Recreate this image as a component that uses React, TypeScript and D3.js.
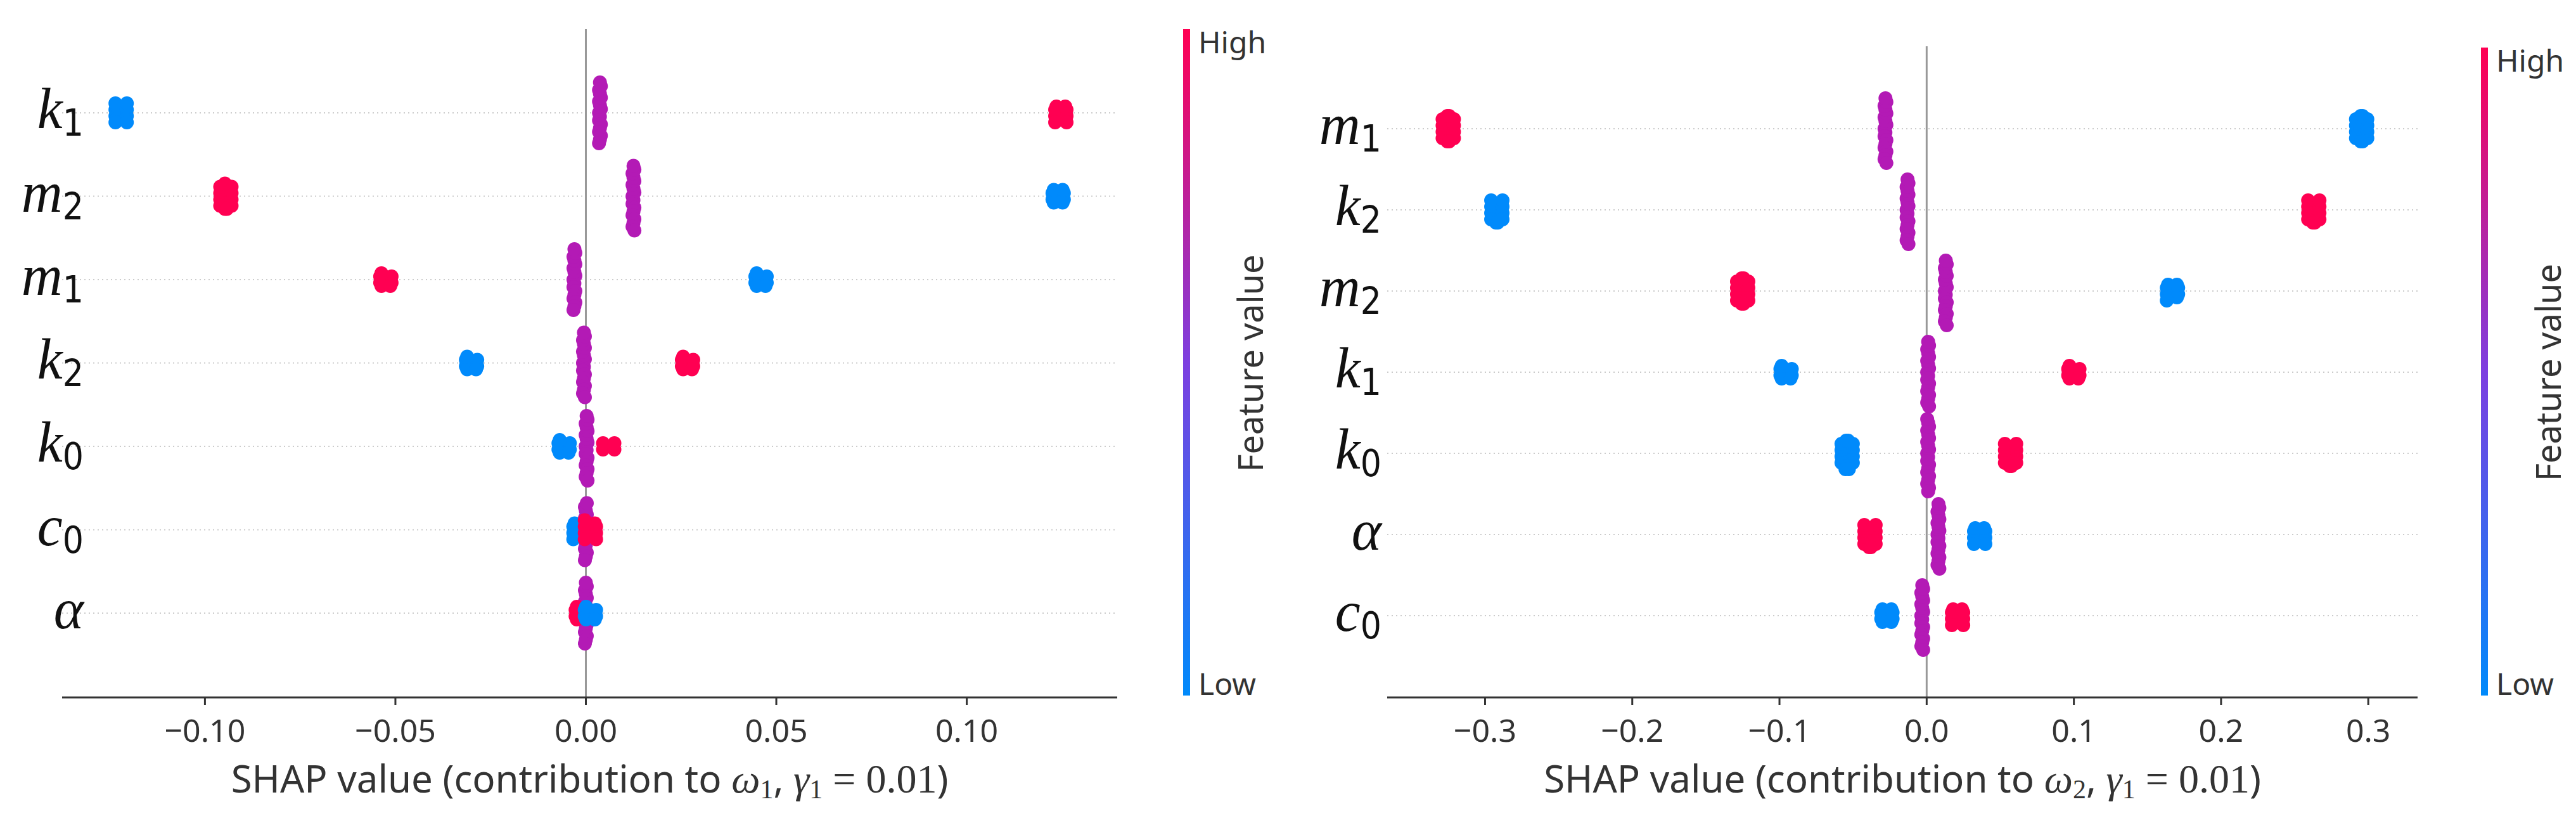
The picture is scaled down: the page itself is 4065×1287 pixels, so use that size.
import React from "react";
import * as d3 from "d3";

// ---- data ----
const leftFeatures = ["k1", "m2", "m1", "k2", "k0", "c0", "alpha"];
// clusters: [feature, shap value, feature value (0 low..1 high), point count]
const leftClusters: [string, number, number, number][] = [
  ["k1", -0.122, 0, 14], ["k1", 0.0037, 0.5, 17], ["k1", 0.1247, 1, 12],
  ["m2", -0.0945, 1, 17], ["m2", 0.0125, 0.5, 18], ["m2", 0.124, 0, 10],
  ["m1", -0.0525, 1, 9], ["m1", -0.003, 0.5, 17], ["m1", 0.046, 0, 9],
  ["k2", -0.030, 0, 9], ["k2", -0.0005, 0.5, 18], ["k2", 0.0267, 1, 9],
  ["k0", -0.0057, 0, 9], ["k0", 0.0002, 0.5, 18], ["k0", 0.006, 1, 6],
  ["c0", 0.0, 0.5, 16], ["c0", -0.0018, 0, 11], ["c0", 0.0012, 1, 13],
  ["alpha", 0.0, 0.5, 17], ["alpha", -0.0012, 1, 9], ["alpha", 0.0012, 0, 9],
];
const leftTicks = [-0.1, -0.05, 0, 0.05, 0.1];
const leftDomain = [-0.1375, 0.1395];

const rightFeatures = ["m1", "k2", "m2", "k1", "k0", "alpha", "c0"];
const rightClusters: [string, number, number, number][] = [
  ["m1", -0.325, 1, 18], ["m1", -0.028, 0.5, 18], ["m1", 0.2955, 0, 18],
  ["k2", -0.292, 0, 16], ["k2", -0.013, 0.5, 18], ["k2", 0.263, 1, 16],
  ["m2", -0.125, 1, 18], ["m2", 0.013, 0.5, 18], ["m2", 0.167, 0, 11],
  ["k1", -0.0955, 0, 9], ["k1", 0.001, 0.5, 18], ["k1", 0.100, 1, 9],
  ["k0", -0.054, 0, 20], ["k0", 0.001, 0.5, 20], ["k0", 0.057, 1, 16],
  ["alpha", -0.0385, 1, 16], ["alpha", 0.008, 0.5, 18], ["alpha", 0.036, 0, 12],
  ["c0", -0.027, 0, 10], ["c0", -0.003, 0.5, 18], ["c0", 0.021, 1, 12],
];
const rightTicks = [-0.3, -0.2, -0.1, 0, 0.1, 0.2, 0.3];
const rightDomain = [-0.3665, 0.3335];

const colorStops = ["#008afb", "#7d3fe0", "#ff0052"];
const color = d3.scaleLinear<string>().domain([0, 0.5, 1]).range(colorStops).interpolate(d3.interpolateRgb);
const midColor = "#b31ab5";
const ptColor = (v: number) => (v === 0.5 ? midColor : color(v));

const sub: Record<string, [string, string]> = {
  k1: ["k", "1"], k2: ["k", "2"], k0: ["k", "0"], m1: ["m", "1"], m2: ["m", "2"], c0: ["c", "0"], alpha: ["α", ""],
};

const fmtL = (v: number) => (v < 0 ? "\u2212" : "") + Math.abs(v).toFixed(2);
const fmtR = (v: number) => (v < 0 ? "\u2212" : "") + Math.abs(v).toFixed(1);

function Panel(props: {
  ox: number; x0: number; x1: number; top: number; domain: number[]; ticks: number[]; fmt: (v: number) => string;
  features: string[]; clusters: [string, number, number, number][]; rowTop: number; rowGap: number;
  labelRight: number; omega: string; cbX: number; cbTop: number;
}) {
  const { x0, x1, top, domain, ticks, fmt, features, clusters, rowTop, rowGap, labelRight, omega, cbX, cbTop } = props;
  const axisY = 1100;
  const x = d3.scaleLinear().domain(domain).range([x0, x1]);
  const y = d3.scalePoint<string>().domain(features).range([rowTop, rowTop + rowGap * (features.length - 1)]);
  const r = 11;
  const pts: { cx: number; cy: number; c: string; k: string }[] = [];
  const blobPattern = [0, -1, 1, -0.5, 0.5, -1, 1, 0];
  clusters.forEach(([f, s, v, n], ci) => {
    const cx0 = x(s);
    const cy0 = y(f)!;
    const mid = v === 0.5;
    for (let i = 0; i < n; i++) {
      if (mid) {
        const k = Math.ceil(i / 2) * (i % 2 ? 1 : -1);
        pts.push({ cx: cx0 + ((i % 3) - 1) * 1.5, cy: cy0 + k * 6, c: ptColor(v), k: `${ci}-${i}` });
      } else {
        const j = Math.floor(i / 2);
        const k = Math.ceil(j / 2) * (j % 2 ? 1 : -1);
        const side = i % 2 ? 1 : -1;
        const dx = side * (5 + Math.abs(blobPattern[j % 8]) * 4) * (Math.abs(k) > 3 ? 0.3 : 1);
        pts.push({ cx: cx0 + dx, cy: cy0 + k * 5, c: ptColor(v), k: `${ci}-${i}` });
      }
    }
  });
  const gradId = `grad${props.ox}`;
  return (
    <g>
      {features.map((f) => (
        <line key={f} x1={x0} x2={x1} y1={y(f)} y2={y(f)} stroke="#cccccc" strokeWidth={2} strokeDasharray="2 5" />
      ))}
      <line x1={x(0)} x2={x(0)} y1={top} y2={axisY} stroke="#999" strokeWidth={3} />
      {pts.map((p) => (
        <circle key={p.k} cx={p.cx} cy={p.cy} r={r} fill={p.c} />
      ))}
      <line x1={x0} x2={x1} y1={axisY} y2={axisY} stroke="#333" strokeWidth={3} />
      {ticks.map((t) => (
        <g key={t}>
          <line x1={x(t)} x2={x(t)} y1={axisY} y2={axisY + 12} stroke="#333" strokeWidth={3} />
          <text x={x(t)} y={axisY + 70} textAnchor="middle" fontSize={50} fill="#333" fontFamily="'Noto Sans'">{fmt(t)}</text>
        </g>
      ))}
      {features.map((f) => (
        <text key={f} x={labelRight} y={y(f)! + 24} textAnchor="end" fontFamily="'Liberation Serif'" fill="#111">
          <tspan fontStyle="italic" fontSize={90}>{sub[f][0]}</tspan>
          {sub[f][1] && <tspan fontSize={58} dy={12} fontFamily="'DejaVu Sans Condensed', 'Noto Sans'">{sub[f][1]}</tspan>}
        </text>
      ))}
      <text x={(x0 + x1) / 2} y={1250} textAnchor="middle" fontSize={60} fill="#333" fontFamily="'Noto Sans'">
        SHAP value (contribution to{" "}
        <tspan fontFamily="'Liberation Serif'" fontStyle="italic" fontSize={64}>ω</tspan>
        <tspan fontFamily="'Liberation Serif'" fontSize={42} dy={9}>{omega}</tspan>
        <tspan dy={-9}>, </tspan>
        <tspan fontFamily="'Liberation Serif'" fontStyle="italic" fontSize={64}>γ</tspan>
        <tspan fontFamily="'Liberation Serif'" fontSize={42} dy={9}>1</tspan>
        <tspan dy={-9} fontFamily="'Liberation Serif'" fontSize={64}> = 0.01</tspan>)
      </text>
      <defs>
        <linearGradient id={gradId} x1="0" y1="1" x2="0" y2="0">
          {colorStops.map((c, i) => (
            <stop key={i} offset={i / 2} stopColor={c} />
          ))}
        </linearGradient>
      </defs>
      <rect x={cbX} y={cbTop} width={11} height={axisY - 3 - cbTop} fill={`url(#${gradId})`} />
      <text x={cbX + 24} y={cbTop + 38} fontSize={48} fill="#333" fontFamily="'Noto Sans'">High</text>
      <text x={cbX + 24} y={axisY - 4} fontSize={48} fill="#333" fontFamily="'Noto Sans'">Low</text>
      <text transform={`translate(${cbX + 126},${(cbTop + axisY) / 2}) rotate(-90)`} textAnchor="middle" fontSize={54} fill="#333" fontFamily="'Noto Sans'">Feature value</text>
    </g>
  );
}

export default function App() {
  return (
    <svg width={4065} height={1287} style={{ position: "absolute", left: 0, top: 0, background: "#fff" }}>
      <rect width={4065} height={1287} fill="#fff" />
      <Panel ox={0} x0={98} x1={1763} top={46} domain={leftDomain} ticks={leftTicks} fmt={fmtL}
        features={leftFeatures} clusters={leftClusters} rowTop={178} rowGap={131.5} labelRight={132}
        omega="1" cbX={1867} cbTop={46} />
      <Panel ox={1} x0={2189} x1={3815} top={73} domain={rightDomain} ticks={rightTicks} fmt={fmtR}
        features={rightFeatures} clusters={rightClusters} rowTop={203} rowGap={128} labelRight={2180}
        omega="2" cbX={3915} cbTop={75} />
    </svg>
  );
}
